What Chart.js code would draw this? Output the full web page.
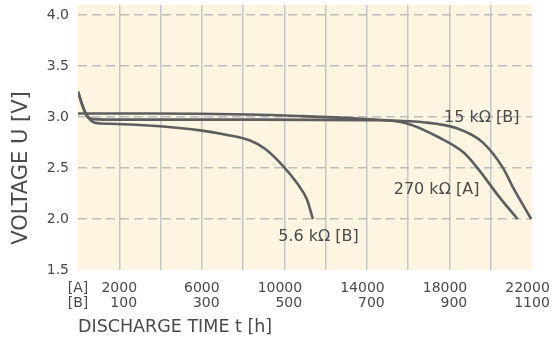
<!DOCTYPE html>
<html>
<head>
<meta charset="utf-8">
<script src="https://cdn.jsdelivr.net/npm/chart.js@4.4.1/dist/chart.umd.min.js"></script>
<style>
  html, body { margin: 0; padding: 0; background: #ffffff; }
  canvas { display: block; }
</style>
</head>
<body>
<canvas id="dischargeChart" width="553" height="338"></canvas>
<script>
// 5.6 kOhm, time axis [B]
const hours56 = [0, 12, 24, 41, 78, 199, 296, 368, 417, 453, 497, 531, 555, 569];
const volts56 = [3.25, 3.10, 3.00, 2.945, 2.935, 2.91, 2.87, 2.82, 2.77, 2.69, 2.52, 2.35, 2.19, 2.00];

// 15 kOhm, time axis [B]
const hours15 = [0, 12, 22, 36, 100, 400, 700, 836, 918, 981, 1030, 1054, 1098];
const volts15 = [3.25, 3.10, 3.01, 2.98, 2.975, 2.975, 2.97, 2.95, 2.89, 2.75, 2.50, 2.31, 2.00];

// 270 kOhm, time axis [A]
const hours270 = [0, 3500, 8300, 10800, 12700, 14000, 15900, 17500, 18700, 19400, 20400, 21300];
const volts270 = [3.035, 3.035, 3.025, 3.01, 2.995, 2.98, 2.94, 2.80, 2.65, 2.49, 2.22, 2.00];

// tick labels
const ticksA = [2000, 6000, 10000, 14000, 18000, 22000];
const ticksB = [100, 300, 500, 700, 900, 1100];
const ticksV = [1.5, 2.0, 2.5, 3.0, 3.5, 4.0];

const curveLabels = [
    { text: '15 kΩ [B]', axis: 'xB', x: 887, y: 2.995 },
    { text: '270 kΩ [A]', axis: 'xA', x: 15300, y: 2.29 },
    { text: '5.6 kΩ [B]', axis: 'xB', x: 485, y: 1.83 }
];

const textColor = '#4a4a4a';
const lineColor = '#5e5e5e';

function toPoints(xs, ys) {
    return xs.map((x, i) => ({ x: x, y: ys[i] }));
}

function curve(xs, ys, axis) {
    return {
        data: toPoints(xs, ys),
        xAxisID: axis,
        yAxisID: 'y',
        borderColor: lineColor,
        borderWidth: 2.6,
        pointRadius: 0,
        fill: false,
        cubicInterpolationMode: 'monotone'
    };
}

// the numbers end a little right of their grid line, like 4 centred digits:
// pad with figure spaces (digit wide) so every label keeps that right edge
function padLabel(v) {
    const s = String(v);
    const fs = '\u2007';
    if (s.length < 4) return fs.repeat(4 - s.length) + s;
    if (s.length > 4) return s + fs.repeat(s.length - 4);
    return s;
}

// beige plot background, y title and curve names
const decorPlugin = {
    id: 'decor',
    beforeDraw(chart) {
        const a = chart.chartArea;
        const ctx = chart.ctx;
        ctx.save();
        ctx.fillStyle = '#fdf5e1';
        ctx.fillRect(a.left, a.top, a.right - a.left, a.bottom - a.top);
        ctx.restore();
    },
    afterDraw(chart) {
        const ctx = chart.ctx;
        ctx.save();
        ctx.fillStyle = textColor;
        ctx.font = '16px "DejaVu Sans"';
        ctx.textAlign = 'left';
        ctx.textBaseline = 'middle';
        curveLabels.forEach(l => {
            ctx.fillText(l.text, chart.scales[l.axis].getPixelForValue(l.x), chart.scales.y.getPixelForValue(l.y));
        });

        ctx.translate(22, 168);
        ctx.rotate(-Math.PI / 2);
        ctx.textAlign = 'center';
        ctx.font = '21px "DejaVu Sans"';
        ctx.fillText('VOLTAGE U [V]', 0, 0);
        ctx.restore();
    }
};

const tickFont = { family: 'DejaVu Sans', size: 14 };

const chart = new Chart(document.getElementById('dischargeChart').getContext('2d'), {
    type: 'line',
    data: {
        datasets: [
            curve(hours270, volts270, 'xA'),
            curve(hours15, volts15, 'xB'),
            curve(hours56, volts56, 'xB')
        ]
    },
    options: {
        responsive: false,
        animation: false,
        devicePixelRatio: 1,
        layout: { padding: { left: 0, right: 21, top: 5, bottom: 0 } },
        plugins: {
            legend: { display: false },
            tooltip: { enabled: false }
        },
        scales: {
            xA: {
                type: 'linear',
                position: 'bottom',
                weight: 1,
                min: 0,
                max: 22000,
                border: { display: false },
                grid: {
                    drawTicks: false,
                    lineWidth: 1.5,
                    color: ctx => (ctx.tick && (ctx.tick.value === 0 || ctx.tick.value === 22000)) ? 'rgba(0,0,0,0)' : '#c6c6c6'
                },
                ticks: {
                    stepSize: 2000,
                    autoSkip: false,
                    maxRotation: 0,
                    padding: 10,
                    color: textColor,
                    font: tickFont,
                    callback: v => v === 0 ? '[A]' : (ticksA.includes(v) ? padLabel(v) : '')
                },
                afterFit(scale) {
                    // labels are clipped to the scale box, keep it tall enough
                    scale.height = 24;
                    scale.paddingLeft = 0;
                    scale.paddingRight = 0;
                }
            },
            xB: {
                type: 'linear',
                position: 'bottom',
                weight: 2,
                min: 0,
                max: 1100,
                border: { display: false },
                grid: { display: false, drawTicks: false },
                ticks: {
                    stepSize: 100,
                    autoSkip: false,
                    maxRotation: 0,
                    padding: 1,
                    color: textColor,
                    font: tickFont,
                    callback: v => v === 0 ? '[B]' : (ticksB.includes(v) ? padLabel(v) : '')
                },
                title: {
                    display: true,
                    text: 'DISCHARGE TIME t [h]',
                    align: 'start',
                    color: textColor,
                    font: { family: 'DejaVu Sans', size: 17.5 },
                    padding: { top: 0, bottom: 0 }
                },
                afterFit(scale) {
                    scale.height = 44;
                    scale.paddingLeft = 0;
                    scale.paddingRight = 0;
                }
            },
            y: {
                type: 'linear',
                min: 1.5,
                max: 4.1,
                border: { display: false, dash: [9, 5] },
                grid: {
                    drawTicks: false,
                    lineWidth: 1.5,
                    color: ctx => (ctx.tick && ctx.tick.value === 1.5) ? 'rgba(0,0,0,0)' : '#bcbcbc'
                },
                ticks: {
                    padding: 9,
                    color: textColor,
                    font: tickFont,
                    callback: v => v.toFixed(1)
                },
                afterBuildTicks(scale) {
                    scale.ticks = ticksV.map(v => ({ value: v }));
                },
                afterFit(scale) {
                    scale.width = 78;
                    scale.paddingTop = 0;
                    scale.paddingBottom = 0;
                }
            }
        }
    },
    plugins: [decorPlugin]
});
</script>
</body>
</html>
